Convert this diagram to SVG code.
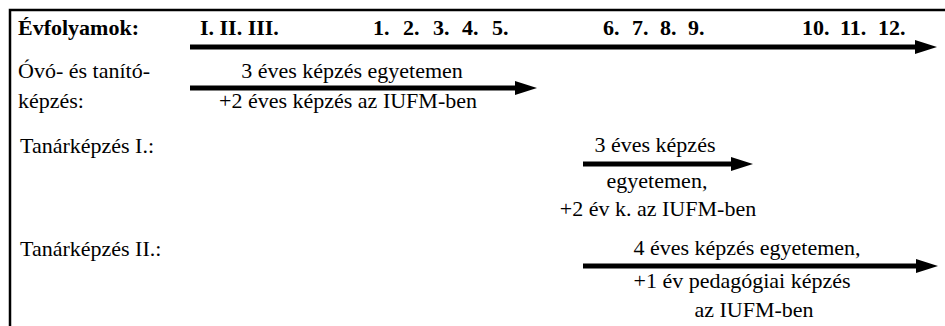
<svg xmlns="http://www.w3.org/2000/svg" width="945" height="326" viewBox="0 0 945 326">
<style>
.t{font-family:'Liberation Serif','DejaVu Serif',serif;font-size:22px;fill:#000}
.b{font-weight:bold}
.m{text-anchor:middle}
.ln{fill:none;stroke:#000;stroke-width:5;marker-end:url(#ah)}
.frame{fill:none;stroke:#000;stroke-width:2.5}
</style>
<defs>
<marker id="ah" viewBox="0 0 22 14" markerWidth="22" markerHeight="14" refX="0" refY="7" markerUnits="userSpaceOnUse" orient="auto">
<path d="M0,0 L22,7 L0,14 Z" fill="#000"/>
</marker>
</defs>
<rect width="945" height="326" fill="#fff"/>
<path class="frame" d="M10,326 V10 H945"/>
<g id="header" font-family="Liberation Serif, serif">
<text class="t b" x="18" y="35">Évfolyamok:</text>
<text class="t b" x="200" y="35">I. II. III.</text>
<text class="t b" y="35"><tspan x="373">1.</tspan><tspan x="403">2.</tspan><tspan x="433">3.</tspan><tspan x="462">4.</tspan><tspan x="492">5.</tspan></text>
<text class="t b" y="35"><tspan x="603">6.</tspan><tspan x="632">7.</tspan><tspan x="660">8.</tspan><tspan x="688">9.</tspan></text>
<text class="t b" y="35"><tspan x="802">10.</tspan><tspan x="840">11.</tspan><tspan x="878">12.</tspan></text>
</g>
<g id="ovo-label">
<text class="t" x="18" y="78">Óvó- és tanító-</text>
<text class="t" x="18" y="108">képzés:</text>
</g>
<g id="ovo-arrow-text">
<text class="t m" x="352" y="78">3 éves képzés egyetemen</text>
<text class="t m" x="348" y="108">+2 éves képzés az IUFM-ben</text>
</g>
<g id="tanar1-label">
<text class="t" x="20" y="153">Tanárképzés I.:</text>
</g>
<g id="tanar1-arrow-text">
<text class="t m" x="655" y="152">3 éves képzés</text>
<text class="t m" x="657" y="188">egyetemen,</text>
<text class="t m" x="658" y="216">+2 év k. az IUFM-ben</text>
</g>
<g id="tanar2-label">
<text class="t" x="20" y="256">Tanárképzés II.:</text>
</g>
<g id="tanar2-arrow-text">
<text class="t m" x="747" y="255">4 éves képzés egyetemen,</text>
<text class="t m" x="742" y="288">+1 év pedagógiai képzés</text>
<text class="t m" x="754" y="317">az IUFM-ben</text>
</g>
<g id="connectors">
<path class="ln" d="M190,47 H915"/>
<path class="ln" d="M190,88 H515"/>
<path class="ln" d="M583,164 H731"/>
<path class="ln" d="M583,266 H916"/>
</g>
</svg>
